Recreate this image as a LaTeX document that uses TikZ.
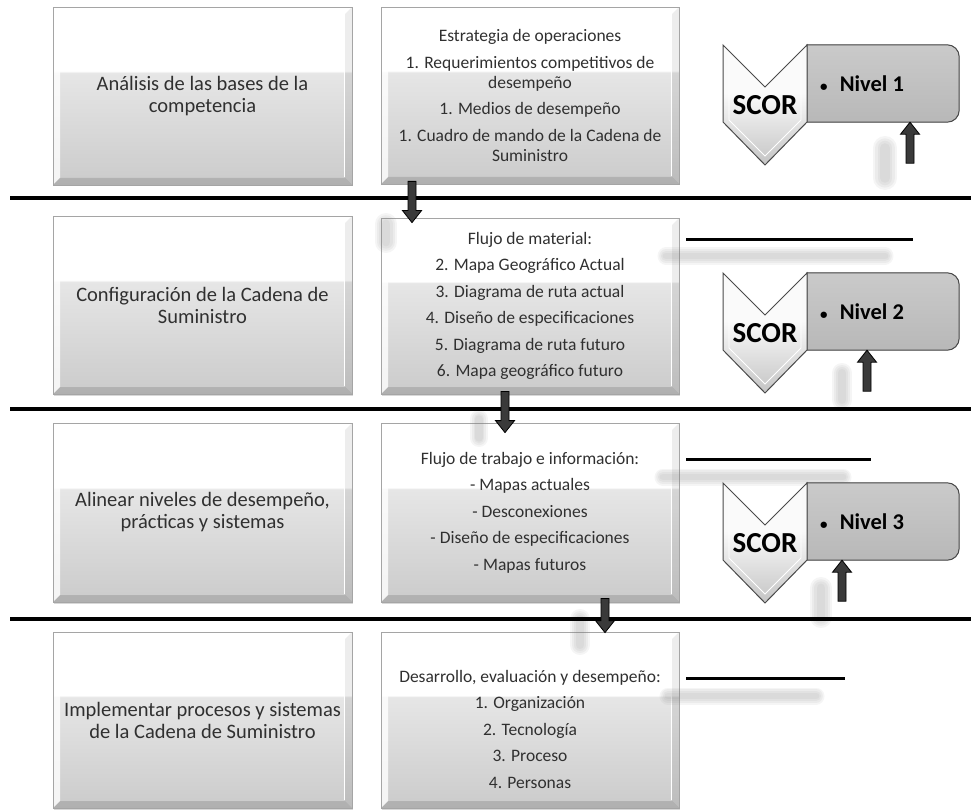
\documentclass[tikz,border=0pt]{standalone}
\usepackage{fontspec}
\setmainfont{Carlito}
\usetikzlibrary{calc,shadows}
\definecolor{txt}{HTML}{303030}
\definecolor{bxB}{HTML}{E6E6E6}
\definecolor{bxC}{HTML}{CBCBCB}
\definecolor{bxE}{HTML}{A5A5A5}
\definecolor{nivT}{HTML}{CACACA}
\definecolor{nivB}{HTML}{B8B8B8}
\definecolor{chevT}{HTML}{FAFAFA}
\definecolor{chevB}{HTML}{C4C4C4}
\definecolor{arrowfill}{HTML}{3A3A3A}
\definecolor{darkline}{HTML}{4A4A4A}
\pgfdeclareverticalshading{boxshade}{100bp}{color(0bp)=(bxC); color(25bp)=(bxC); color(56.5bp)=(bxB); color(57bp)=(white); color(100bp)=(white)}
\pgfdeclareverticalshading{chevshade}{100bp}{color(0bp)=(chevB); color(25bp)=(chevB); color(55bp)=(chevT); color(100bp)=(chevT)}
\tikzset{
  bevelbox/.style={rectangle, draw=bxE, line width=0.8pt, shading=boxshade, inner sep=0pt,
    align=center, text=txt,
    drop shadow={shadow xshift=1.2pt, shadow yshift=-1.5pt, opacity=0.3},
    path picture={
      \fill[white, opacity=0.8] (path picture bounding box.north west) -- (path picture bounding box.south west)
        -- ([shift={(7,7)}]path picture bounding box.south west) -- ([shift={(7,-7)}]path picture bounding box.north west) -- cycle;
      \fill[black, opacity=0.13] (path picture bounding box.south west) -- (path picture bounding box.south east)
        -- ([shift={(-7,7)}]path picture bounding box.south east) -- ([shift={(7,7)}]path picture bounding box.south west) -- cycle;
      \fill[black, opacity=0.07] (path picture bounding box.south east) -- (path picture bounding box.north east)
        -- ([shift={(-7,-7)}]path picture bounding box.north east) -- ([shift={(-7,7)}]path picture bounding box.south east) -- cycle;
      \draw[white, line width=1pt] ([shift={(-8,-10)}]path picture bounding box.north east) -- ([shift={(-8,8)}]path picture bounding box.south east);
    }},
  plaintext/.style={align=center, text=txt, inner sep=0pt},
  lefttext/.style={font=\fontsize{20.5}{22}\selectfont},
  midtext/.style={font=\fontsize{17.5}{20}\selectfont},
  sepline/.style={line width=3.5pt, black},
  shortline/.style={line width=3pt, black},
  blockarr/.style={fill=arrowfill, draw=black, line width=0.8pt},
  nivel/.style={rectangle, minimum width=152pt, minimum height=77pt, inner sep=0pt},
  nivline/.style={draw=darkline, line width=1pt, top color=nivT, bottom color=nivB},
  niveltext/.style={font=\fontsize{22.5}{24}\selectfont\bfseries, text=black, inner sep=0pt},
  chev/.style={draw=darkline, line width=1pt, shading=chevshade},
  scortext/.style={font=\fontsize{29}{30}\selectfont\bfseries, text=black, inner sep=0pt},
}
\newcommand\blockarrow[2]{%
  \filldraw[blockarr] let \p1=(#1), \p2=(#2), \n1={(\y2-\y1)/abs(\y2-\y1)} in
    ({\x1-4pt},\y1) -- ({\x1-4pt},{\y2-\n1*12pt}) -- ({\x1-9.5pt},{\y2-\n1*12pt}) -- (\x1,\y2)
    -- ({\x1+9.5pt},{\y2-\n1*12pt}) -- ({\x1+4pt},{\y2-\n1*12pt}) -- ({\x1+4pt},\y1) -- cycle;}
\newcommand\smudge[5]{%
  \foreach \w in {1,0.8,0.6,0.4}{
    \draw[gray, opacity=0.08, line cap=round, line width=\w*#5pt] (#1,-#2) -- (#3,-#4);}}
\newcommand\scorblock[4]{%
  \begin{scope}[shift={(723,-#2)}]
    \node[nivel] (n#1) at (160,-38.5) {};
    \filldraw[nivline] (n#1.north west) -- ([xshift=-12]n#1.north east) arc[start angle=90,end angle=0,radius=12]
      -- ([yshift=12]n#1.south east) arc[start angle=0,end angle=-90,radius=12] -- (n#1.south west) -- cycle;
    \node[niveltext, anchor=west] (v#1) at ([xshift=13]n#1.west) {{\fontsize{15}{15}\selectfont\textbullet}\hspace{0.55em}Nivel #3};
    \draw[chev] (0,0) -- (42,-42) -- (84,0) -- (84,-77) -- (42,-120) -- (0,-77) -- cycle;
    \draw[white, line width=0.8pt] (6,-8) -- (6,-75) -- (42,-111) -- (78,-75) -- (78,-8);
    \node[scortext] (s#1) at (42,-60) {SCOR};
    \coordinate (u#1) at ([xshift=#4,yshift=-41]n#1.south);
  \end{scope}
  \blockarrow{u#1}{[xshift=#4]n#1.south}
}
\begin{document}
\begin{tikzpicture}[x=1pt,y=1pt]
\fill[white] (0,0) rectangle (971,-810);
\useasboundingbox (0,0) rectangle (971,-810);

% left column
\node[bevelbox, lefttext, minimum width=299pt, minimum height=178pt] (L1) at (202.5,-96) {Análisis de las bases de la\\competencia};
\node[bevelbox, lefttext, minimum width=299pt, minimum height=178pt] (L2) at (202.5,-305) {Configuración de la Cadena de\\Suministro};
\node[bevelbox, lefttext, minimum width=299pt, minimum height=179pt] (L3) at (202.5,-512.5) {Alinear niveles de desempeño,\\prácticas y sistemas};
\node[bevelbox, lefttext, minimum width=299pt, minimum height=176pt] (L4) at (202.5,-720) {Implementar procesos y sistemas\\de la Cadena de Suministro};

% middle column
\node[bevelbox, midtext, minimum width=298pt, minimum height=177pt] (M1) at (530,-95.5)
  {Estrategia de operaciones\\[6.5pt]1. Requerimientos competitivos de\\desempeño\\[6.5pt]1. Medios de desempeño\\[6.5pt]1. Cuadro de mando de la Cadena de\\Suministro};
\node[bevelbox, midtext, minimum width=298pt, minimum height=176pt] (M2) at (530,-306)
  {Flujo de material:\\[6.5pt]2. Mapa Geográfico Actual\\[6.5pt]3. Diagrama de ruta actual\\[6.5pt]4. Diseño de especificaciones\\[6.5pt]5. Diagrama de ruta futuro\\[6.5pt]6. Mapa geográfico futuro};
\node[bevelbox, midtext, minimum width=298pt, minimum height=179pt] (M3) at (530,-512.5)
  {Flujo de trabajo e información:\\[6.5pt]- Mapas actuales\\[6.5pt]- Desconexiones\\[6.5pt]- Diseño de especificaciones\\[6.5pt]- Mapas futuros};
\node[bevelbox, minimum width=298pt, minimum height=176pt] (M4) at (530,-720) {};
\node[plaintext, midtext] (M4t) at ([yshift=-9]M4.center)
  {Desarrollo, evaluación y desempeño:\\[6.5pt]1. Organización\\[6.5pt]2. Tecnología\\[6.5pt]3. Proceso\\[6.5pt]4. Personas};

% smudges
\smudge{885}{148}{885}{178}{24}
\smudge{666}{256}{885}{256}{17}
\smudge{842}{373}{842}{400}{20}
\smudge{663}{477}{843}{477}{17}
\smudge{821}{588}{821}{617}{22}
\smudge{668}{696}{816}{696}{17}
\smudge{386}{224}{386}{242}{22}
\smudge{479}{419}{479}{438}{18}
\smudge{580}{619}{580}{645}{20}

% separators
\draw[sepline] (10,-198) -- (971,-198);
\draw[sepline] (10,-409) -- (971,-409);
\draw[sepline] (10,-619) -- (971,-619);
\draw[shortline] (686,-240) -- (913,-240);
\draw[shortline] (686,-459) -- (871,-459);
\draw[shortline] (686,-678) -- (845,-678);

% flow arrows
\blockarrow{[xshift=-118pt,yshift=3pt]M1.south}{[xshift=-118pt,yshift=-5pt]M2.north}
\blockarrow{[xshift=-25pt,yshift=3pt]M2.south}{[xshift=-25pt,yshift=-10pt]M3.north}
\blockarrow{[xshift=75pt,yshift=4pt]M3.south}{[xshift=75pt,yshift=-1pt]M4.north}

% SCOR blocks
\scorblock{1}{45}{1}{27}
\scorblock{2}{273}{2}{-16}
\scorblock{3}{483}{3}{-41}
\end{tikzpicture}
\end{document}
